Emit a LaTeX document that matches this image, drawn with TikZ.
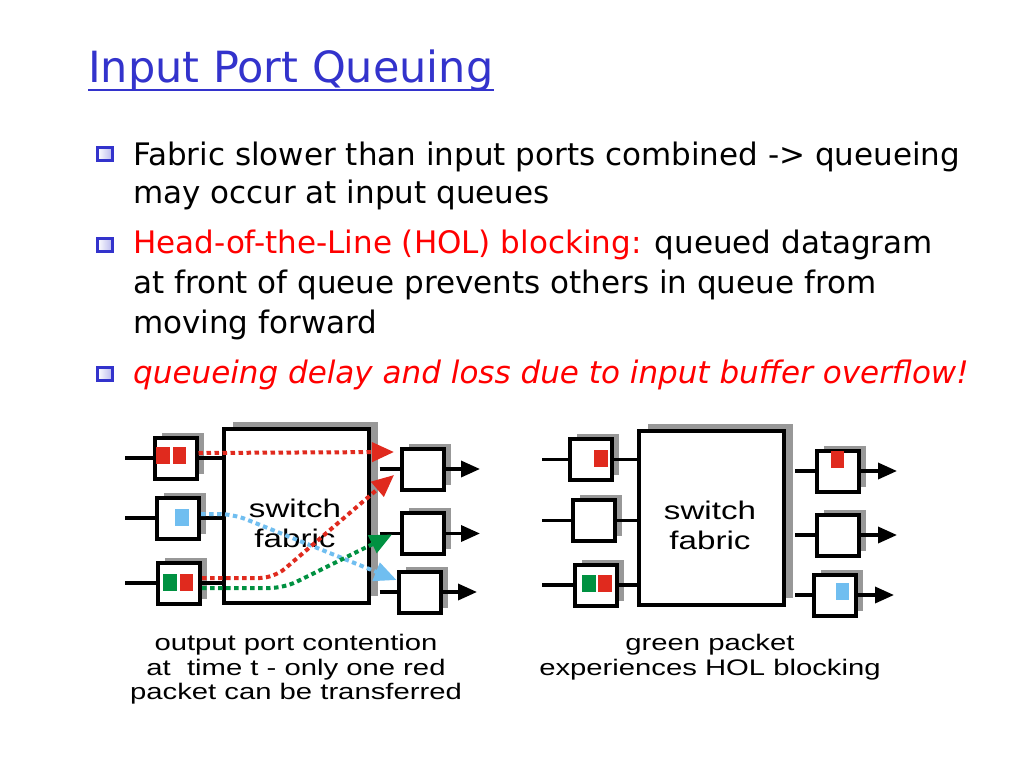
\documentclass[tikz,border=0pt]{standalone}
\usepackage{fontspec}
\setmainfont{DejaVu Sans}
\newfontfamily\diagfont[FakeStretch=1.3]{Liberation Sans}
\usetikzlibrary{arrows.meta,shadows,positioning}
\definecolor{titleblue}{RGB}{51,51,204}
\definecolor{pktred}{RGB}{224,42,30}
\definecolor{pktgreen}{RGB}{0,145,65}
\definecolor{pktblue}{RGB}{112,190,240}
\definecolor{shadowgray}{RGB}{152,152,152}
\begin{document}
\begin{tikzpicture}[%
    x=1pt,
    y=-1pt,
    bodytext/.style={
      anchor=base west,
      inner sep=0pt,
      font=\fontsize{31}{36}\selectfont
    },
    bulletbox/.style={
      rectangle,
      draw=titleblue,
      line width=2.2pt,
      left color=white,
      right color=titleblue!35,
      inner sep=0pt,
      minimum width=15pt,
      minimum height=13pt
    },
    portq/.style={
      rectangle,
      draw=black,
      line width=4pt,
      fill=white,
      inner sep=0pt,
      minimum width=42pt,
      minimum height=41pt,
      drop shadow={shadow xshift=7pt, shadow yshift=5pt, fill=shadowgray, opacity=1}
    },
    fabricbox/.style={
      rectangle,
      draw=black,
      line width=4pt,
      fill=white,
      inner sep=0pt,
      minimum width=145pt,
      minimum height=174pt,
      drop shadow={shadow xshift=9pt, shadow yshift=7pt, fill=shadowgray, opacity=1}
    },
    pkt/.style={
      rectangle,
      inner sep=0pt,
      minimum width=13.5pt,
      minimum height=17pt
    },
    wire/.style={draw=black, line width=3.5pt},
    outarrow/.style={wire, -{Triangle[length=19pt,width=16pt]}},
    flow/.style={
      line width=4pt,
      dash pattern=on 4.5pt off 3.5pt,
      rounded corners=14pt,
      -{Triangle[length=22pt,width=19pt]}
    },
    caption/.style={
      anchor=north,
      inner sep=0pt,
      align=center,
      font=\diagfont\fontsize{22.5}{24.5}\selectfont
    },
    fabtext/.style={
      align=center,
      inner sep=0pt,
      font=\diagfont\fontsize{25.5}{30}\selectfont
    }
  ]
    \path[fill=white] (0,0) rectangle (1024,768);
    \useasboundingbox (0,0) rectangle (1024,768);

    % title and bullets
    \node[anchor=base west, inner sep=0pt, text=titleblue,
      font=\fontsize{43}{50}\selectfont] (ttl) at (88,82) {Input Port Queuing};
    \draw[titleblue, line width=2.5pt] ([yshift=-8pt]ttl.base west) -- ([yshift=-8pt]ttl.base east);

    \node[bulletbox] (b1) at (105,154) {};
    \node[bulletbox] (b2) at (105,245) {};
    \node[bulletbox] (b3) at (105,374) {};
    \node[bodytext] (l1) at (133,165) {Fabric slower than input ports combined -> queueing};
    \node[bodytext] (l2) at (133,203) {may occur at input queues};
    \node[bodytext] (l3) at (133,253) {{\color{red}Head-of-the-Line (HOL) blocking:} queued datagram};
    \node[bodytext] (l4) at (133,293) {at front of queue prevents others in queue from};
    \node[bodytext] (l5) at (133,333) {moving forward};
    \node[bodytext, text=red, font=\fontsize{31}{36}\selectfont\itshape] (l6) at (133,383) {queueing delay and loss due to input buffer overflow!};

    % left switch: output port contention
    \coordinate (lstart) at (125,0);
    \coordinate (lend) at (480,0);
    \node[fabricbox] (lfab) at (296,516) {};
    \coordinate (lfabr) at ([xshift=9pt]lfab.east);
    \node[fabtext] (lfabtxt) at (295,523) {switch\\fabric};
    \node[portq] (li1) at (175.5,458) {};
    \node[portq] (li2) at (178,518) {};
    \node[portq] (li3) at (179,583) {};
    \node[portq] (lo1) at (423,469) {};
    \node[portq] (lo2) at (423,533.5) {};
    \node[portq] (lo3) at (419.5,592) {};
    \node[pkt, fill=pktred] (lp1a) at (163,455.5) {};
    \node[pkt, fill=pktred] (lp1b) at (179.5,455.5) {};
    \node[pkt, fill=pktblue] (lp2) at (182,517) {};
    \node[pkt, fill=pktgreen] (lp3a) at (170,582) {};
    \node[pkt, fill=pktred] (lp3b) at (186.5,582) {};

    \draw[wire] (lstart |- li1) -- (li1);
    \draw[wire] (lstart |- li2) -- (li2);
    \draw[wire] (lstart |- li3) -- (li3);
    \draw[wire] (li1) -- (li1 -| lfab.west);
    \draw[wire] (li2) -- (li2 -| lfab.west);
    \draw[wire] (li3) -- (li3 -| lfab.west);
    \draw[wire] (lfabr |- lo1) -- (lo1);
    \draw[wire] (lfabr |- lo2) -- (lo2);
    \draw[wire] (lfabr |- lo3) -- (lo3);
    \draw[outarrow] (lo1) -- (lend |- lo1);
    \draw[outarrow] (lo2) -- (lend |- lo2);
    \draw[outarrow] (lo3) -- ([xshift=-3pt]lend |- lo3);

    \coordinate (tip1) at ([shift={(-6,-17)}]lo1.west);
    \coordinate (tip2) at ([shift={(-6,6)}]lo1.west);
    \coordinate (tip3) at ([shift={(-8,1)}]lo2.west);
    \coordinate (tip4) at ([shift={(0,-12)}]lo3.west);
    \draw[flow, pktblue] ([yshift=4pt]li2.east) -- ++(32,0) -- (tip4);
    \draw[flow, pktgreen] ([yshift=-5pt]li3.east) -- ++(82,0) -- (tip3);
    \draw[flow, pktred] ([yshift=5pt]li3.east) -- ++(72,0) -- (tip2);
    \draw[flow, pktred] ([yshift=5pt]li1.east) -- (tip1);

    \node[caption] (lcap) at (296,634) {output port contention\\at~ time t - only one red\\packet can be transferred};

    % right switch: HOL blocking
    \coordinate (rstart) at (542,0);
    \coordinate (rend) at (897,0);
    \node[fabricbox] (rfab) at (711.5,518) {};
    \coordinate (rfabr) at ([xshift=9pt]rfab.east);
    \node[fabtext] (rfabtxt) at (710,525) {switch\\fabric};
    \node[portq] (ri1) at (591,459.5) {};
    \node[portq] (ri2) at (594,520.5) {};
    \node[portq] (ri3) at (595.5,585) {};
    \node[portq] (ro1) at (838,471) {};
    \node[portq] (ro2) at (838,535) {};
    \node[portq] (ro3) at (835,595) {};
    \node[pkt, fill=pktred] (rp1) at (601,458.5) {};
    \node[pkt, fill=pktgreen] (rp3a) at (589,583) {};
    \node[pkt, fill=pktred] (rp3b) at (605,583) {};
    \node[pkt, fill=pktred] (rq1) at (837.5,459) {};
    \node[pkt, fill=pktblue] (rq3) at (842.5,591.5) {};

    \draw[wire] (rstart |- ri1) -- (ri1);
    \draw[wire] (rstart |- ri2) -- (ri2);
    \draw[wire] (rstart |- ri3) -- (ri3);
    \draw[wire] (ri1) -- (ri1 -| rfab.west);
    \draw[wire] (ri2) -- (ri2 -| rfab.west);
    \draw[wire] (ri3) -- (ri3 -| rfab.west);
    \draw[wire] (rfabr |- ro1) -- (ro1);
    \draw[wire] (rfabr |- ro2) -- (ro2);
    \draw[wire] (rfabr |- ro3) -- (ro3);
    \draw[outarrow] (ro1) -- (rend |- ro1);
    \draw[outarrow] (ro2) -- (rend |- ro2);
    \draw[outarrow] (ro3) -- ([xshift=-3pt]rend |- ro3);

    \node[caption] (rcap) at (710,634) {green packet\\experiences HOL blocking};
  \end{tikzpicture}
\end{document}
